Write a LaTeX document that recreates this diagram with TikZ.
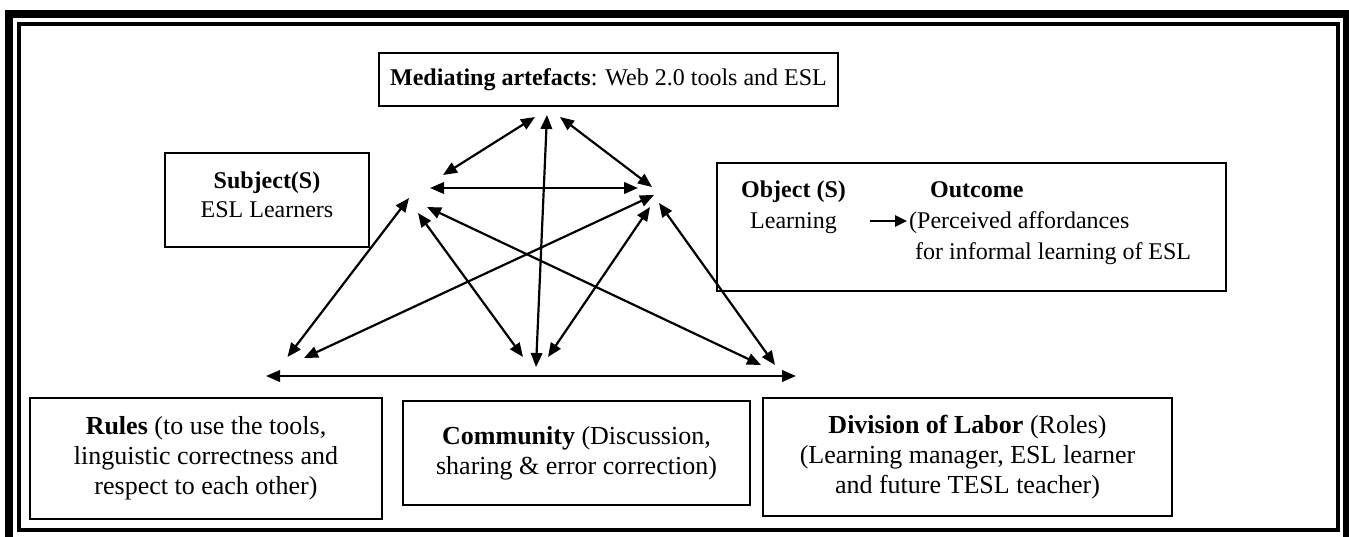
\documentclass[tikz,border=0pt]{standalone}
\usepackage{fontspec}
\setmainfont{Liberation Serif}
\usetikzlibrary{arrows.meta}
\begin{document}
\begin{tikzpicture}[x=1pt,y=-1pt,
  box/.style={draw, line width=2.5pt, inner sep=0pt, align=center},
  link/.style={line width=2.2pt, {Triangle[length=14pt,width=11.5pt]}-{Triangle[length=14pt,width=11.5pt]}},
  txt/.style={font=\fontsize{24}{29}\selectfont},
  big/.style={font=\fontsize{26}{30}\selectfont},
  lbl/.style={txt, anchor=base west, inner sep=0pt}]
\useasboundingbox (0,0) rectangle (1349,536);
% double frame
\draw[line width=8pt] (9,13.5) rectangle (1347,545);
\draw[line width=4pt] (19,24) rectangle (1338,529.5);

% top box
\node[box, txt, minimum width=459pt, minimum height=53pt] (med) at (608.5,79.5)
  {\textbf{Mediating artefacts}: Web 2.0 tools and ESL};

% subject box
\node[box, minimum width=204pt, minimum height=94pt] (subj) at (267,200) {};
\node[txt, align=center, inner sep=0pt] (subjt) at (267,195)
  {\textbf{Subject(S)}\\ESL Learners};

% object / outcome box
\node[box, minimum width=509pt, minimum height=128pt] (obj) at (971.5,227) {};
\node[lbl] (objt) at (741,197) {\textbf{Object (S)}};
\node[lbl] (objl) at (750,228) {Learning};
\node[lbl] (outt) at (930,197) {\textbf{Outcome}};
\node[lbl] (outp) at (909,228) {(Perceived affordances};
\node[lbl] (outf) at (915,259) {for informal learning of ESL};
\coordinate (oa) at (870,221);
\coordinate (ob) at (907,221);
\draw[line width=2.5pt, -{Triangle[length=12pt,width=11pt]}] (oa) -- (ob);

% bottom row
\node[box, big, minimum width=352pt, minimum height=121pt] (rules) at (206,458.5)
  {\textbf{Rules} (to use the tools,\\linguistic correctness and\\respect to each other)};
\node[box, big, minimum width=347pt, minimum height=104pt] (comm) at (576.5,453)
  {\textbf{Community} (Discussion,\\sharing \& error correction)};
\node[box, big, minimum width=409pt, minimum height=118pt] (div) at (967.5,457)
  {\textbf{Division of Labor} (Roles)\\(Learning manager, ESL learner\\and future TESL teacher)};

% arrow end points
\coordinate (tl) at (535,117);
\coordinate (tc) at (547,115);
\coordinate (tr) at (560,117);
\coordinate (ul) at (443,175);
\coordinate (hl) at (430,188);
\coordinate (hr) at (638,188);
\coordinate (ur) at (652,187);
\coordinate (sa) at (409,198);
\coordinate (sb) at (418,213);
\coordinate (sc) at (427,207);
\coordinate (oa1) at (654,195);
\coordinate (ob1) at (650,207);
\coordinate (oc1) at (659,203);
\coordinate (bl1) at (287.5,357);
\coordinate (bl2) at (304,358);
\coordinate (bc1) at (523,357);
\coordinate (bc2) at (536,367);
\coordinate (bc3) at (548,357);
\coordinate (br1) at (761,365);
\coordinate (br2) at (775,365);
\coordinate (bhl) at (266,376);
\coordinate (bhr) at (796,376);

\draw[link] (tl) -- (ul);
\draw[link] (tr) -- (ur);
\draw[link] (hl) -- (hr);
\draw[link] (tc) -- (bc2);
\draw[link] (sa) -- (bl1);
\draw[link] (oa1) -- (bl2);
\draw[link] (sb) -- (bc1);
\draw[link] (sc) -- (br1);
\draw[link] (ob1) -- (bc3);
\draw[link] (oc1) -- (br2);
\draw[link] (bhl) -- (bhr);
\end{tikzpicture}
\end{document}
